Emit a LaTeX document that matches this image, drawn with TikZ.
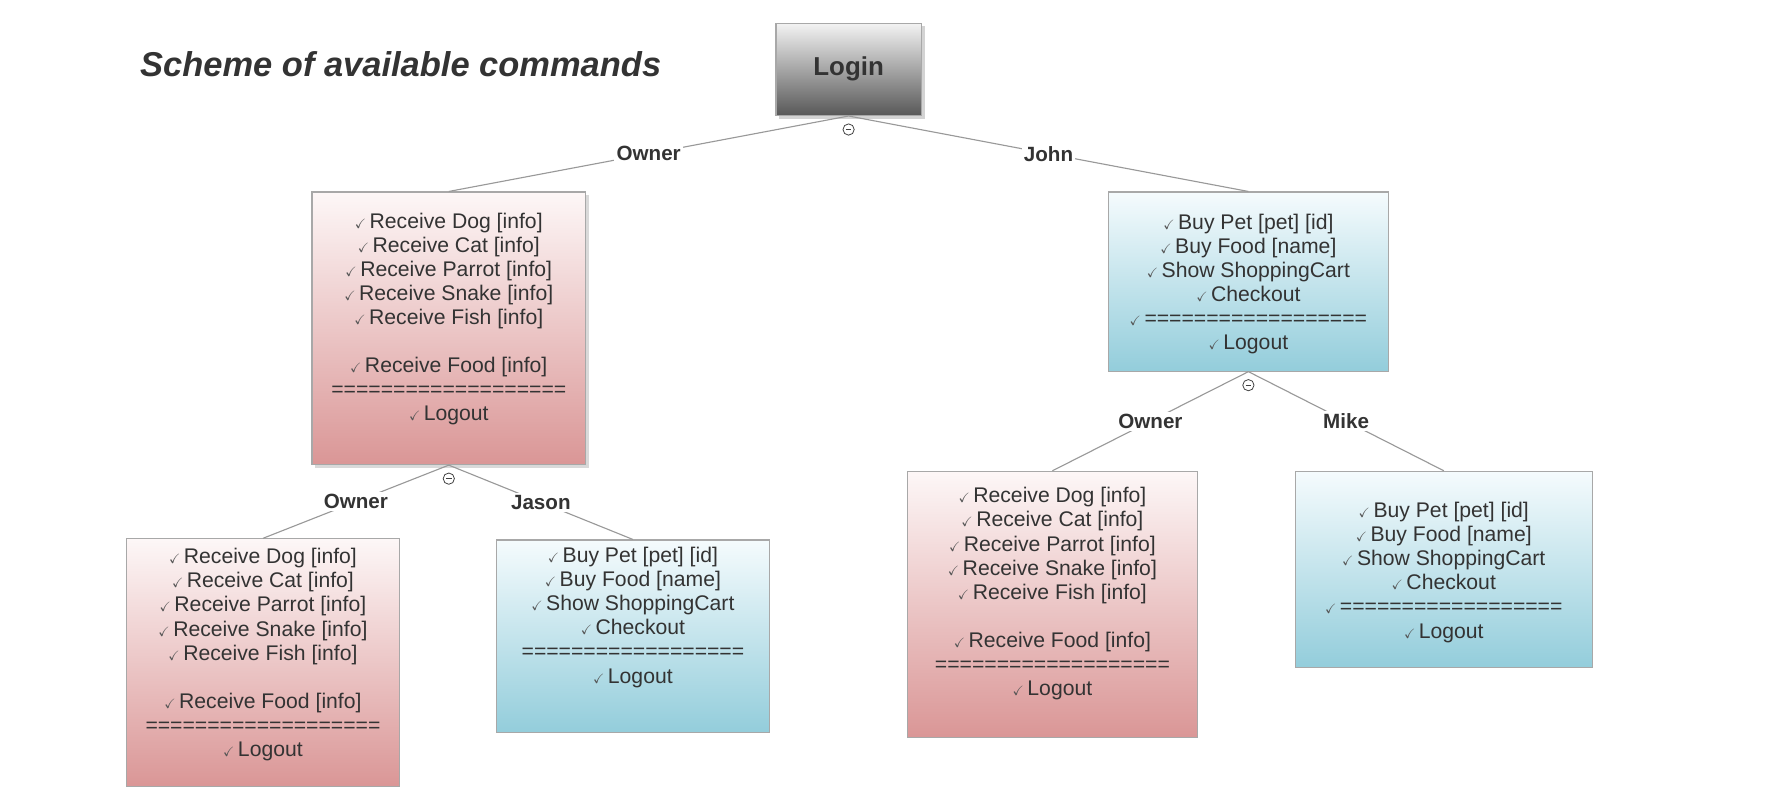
\documentclass[tikz,border=0pt]{standalone}
\usepackage{amssymb}
\usepackage{fontspec}
\setmainfont{Liberation Sans}
\usetikzlibrary{shadows}

\definecolor{txtgray}{HTML}{333333}
\definecolor{ckgray}{HTML}{555555}
\definecolor{boxline}{HTML}{A8A8A8}
\definecolor{edgegray}{HTML}{999999}
\definecolor{pinktop}{HTML}{FDF7F7}
\definecolor{pinkbot}{HTML}{DA9696}
\definecolor{bluetop}{HTML}{F5FBFD}
\definecolor{bluebot}{HTML}{93CDDB}
\definecolor{logintop}{HTML}{F3F3F3}
\definecolor{loginbot}{HTML}{585858}

\newcommand{\ck}{{\color{ckgray}\fontsize{12}{12}\selectfont$\checkmark$}\,}
\newcommand{\ownercmds}{\ck Receive Dog [info]\\ \ck Receive Cat [info]\\
  \ck Receive Parrot [info]\\ \ck Receive Snake [info]\\ \ck Receive Fish [info]\\[21.4pt]
  \ck Receive Food [info]\\ ===================\\ \ck Logout}
\newcommand{\buyercmds}[1]{\ck Buy Pet [pet] [id]\\ \ck Buy Food [name]\\
  \ck Show ShoppingCart\\ \ck Checkout\\ #1==================\\ \ck Logout}

\begin{document}
\begin{tikzpicture}
[   x=1pt,y=-1pt,
    box/.style={draw=boxline,line width=1pt,inner sep=0pt,anchor=north},
    pinkbox/.style 2 args={box,top color=pinktop,bottom color=pinkbot,minimum width=#1,minimum height=#2},
    bluebox/.style 2 args={box,top color=bluetop,bottom color=bluebot,minimum width=#1,minimum height=#2},
    loginbox/.style={box,top color=logintop,bottom color=loginbot,minimum width=129,minimum height=82,
        font=\fontsize{23}{23}\selectfont\bfseries,text=txtgray,
        drop shadow={shadow xshift=3pt,shadow yshift=-3pt,opacity=0.35}},
    cmds/.style={font=\fontsize{18.8}{21.4}\selectfont,text=txtgray,align=center,anchor=north,inner sep=0pt},
    edge/.style={draw=edgegray,line width=1pt},
    lbl/.style={fill=white,inner sep=2pt,font=\fontsize{18.3}{18.3}\selectfont\bfseries,text=txtgray},
    toggle/.style={circle,draw=black!75,fill=white,minimum size=10pt,inner sep=0pt,line width=0.7pt,
        path picture={\draw[black!75,line width=0.8pt] ([xshift=-2.5pt]path picture bounding box.center)
        -- ([xshift=2.5pt]path picture bounding box.center);}},
]
    \useasboundingbox (0,0) rectangle (1569,721);

    \node[anchor=west,text=txtgray,font=\fontsize{30.6}{30.6}\selectfont\bfseries\itshape] (title) at (121,57) {Scheme of available commands};

    % boxes
    \node[loginbox] (login) at (753.5,20) {Login};
    \node[pinkbox={243}{242},drop shadow={shadow xshift=3pt,shadow yshift=-3pt,opacity=0.3}] (owner) at (398.5,170) {};
    \node[bluebox={249}{159}] (john) at (1108.5,170) {};
    \node[pinkbox={243}{220}] (owner-owner) at (233.5,478) {};
    \node[bluebox={242}{171}] (jason) at (562,479) {};
    \node[pinkbox={257}{236}] (john-owner) at (934.5,418) {};
    \node[bluebox={264}{174}] (mike) at (1282,418) {};

    % lists of commands
    \node[cmds] at ([yshift=-18.7pt]owner.north) {\ownercmds};
    \node[cmds] at ([yshift=-19.7pt]john.north) {\buyercmds{\ck}};
    \node[cmds] at ([yshift=-8.7pt]owner-owner.north) {\ownercmds};
    \node[cmds] at ([yshift=-6.7pt]jason.north) {\buyercmds{}};
    \node[cmds] at ([yshift=-14.7pt]john-owner.north) {\ownercmds};
    \node[cmds] at ([yshift=-27.7pt]mike.north) {\buyercmds{\ck}};

    % connectors
    \draw[edge] (login.south) -- node[lbl] {Owner} (owner.north);
    \draw[edge] (login.south) -- node[lbl] {John} (john.north);
    \draw[edge] (owner.south) -- node[lbl] {Owner} (owner-owner.north);
    \draw[edge] (owner.south) -- node[lbl] {Jason} (jason.north);
    \draw[edge] (john.south) -- node[lbl] {Owner} (john-owner.north);
    \draw[edge] (john.south) -- node[lbl] {Mike} (mike.north);

    % collapse markers
    \foreach \n in {login,owner,john}
    {   \node[toggle] (t-\n) at ([yshift=-12pt]\n.south) {};
    }
\end{tikzpicture}
\end{document}
